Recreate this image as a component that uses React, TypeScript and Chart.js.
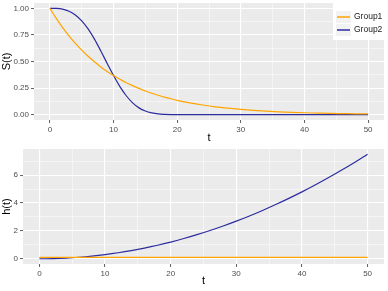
import React, { useEffect, useRef } from "react";
import { Chart, registerables } from "chart.js";

Chart.register(...registerables);

const tValues = [0, 1, 2, 3, 4, 5, 6, 7, 8, 9, 10, 11, 12, 13, 14, 15, 16, 17, 18, 19, 20, 22, 24, 26, 28, 30, 32, 34, 36, 38, 40, 42, 44, 46, 48, 50];
const survGroup1 = [1, 0.905, 0.819, 0.741, 0.670, 0.607, 0.549, 0.497, 0.449, 0.407, 0.368, 0.333, 0.301, 0.273, 0.247, 0.223, 0.202, 0.183, 0.165, 0.150, 0.135, 0.111, 0.091, 0.074, 0.061, 0.050, 0.041, 0.033, 0.027, 0.022, 0.018, 0.015, 0.012, 0.010, 0.008, 0.007];
const survGroup2 = [1, 0.999, 0.992, 0.973, 0.938, 0.882, 0.806, 0.710, 0.599, 0.482, 0.368, 0.264, 0.178, 0.111, 0.064, 0.034, 0.017, 0.007, 0.003, 0.001, 0.0003, 0, 0, 0, 0, 0, 0, 0, 0, 0, 0, 0, 0, 0, 0, 0];
const hazGroup1 = [0.1, 0.1, 0.1, 0.1, 0.1, 0.1, 0.1, 0.1, 0.1, 0.1, 0.1, 0.1, 0.1, 0.1, 0.1, 0.1, 0.1, 0.1, 0.1, 0.1, 0.1, 0.1, 0.1, 0.1, 0.1, 0.1, 0.1, 0.1, 0.1, 0.1, 0.1, 0.1, 0.1, 0.1, 0.1, 0.1];
const hazGroup2 = [0, 0.003, 0.012, 0.027, 0.048, 0.075, 0.108, 0.147, 0.192, 0.243, 0.3, 0.363, 0.432, 0.507, 0.588, 0.675, 0.768, 0.867, 0.972, 1.083, 1.2, 1.452, 1.728, 2.028, 2.352, 2.7, 3.072, 3.468, 3.888, 4.332, 4.8, 5.292, 5.808, 6.348, 6.912, 7.5];

const seriesNames = ["Group1", "Group2"];
const xTicks = [0, 5, 10, 15, 20, 25, 30, 35, 40, 45, 50];
const xMajor = [0, 10, 20, 30, 40, 50];
const survTicks = [0, 0.125, 0.25, 0.375, 0.5, 0.625, 0.75, 0.875, 1];
const survMajor = [0, 0.25, 0.5, 0.75, 1];
const hazTicks = [0, 1, 2, 3, 4, 5, 6, 7];
const hazMajor = [0, 2, 4, 6];

const ORANGE = "#FFA500";
const BLUE = "#2c2c9e";
const FONT = "'Liberation Sans', Arial, sans-serif";

const panelBg = {
  id: "panelBg",
  beforeDraw(chart: any) {
    const { ctx, chartArea } = chart;
    ctx.save();
    ctx.fillStyle = "#EBEBEB";
    ctx.fillRect(chartArea.left, chartArea.top, chartArea.right - chartArea.left, chartArea.bottom - chartArea.top);
    ctx.restore();
  },
};

const legendPlugin = {
  id: "ggLegend",
  afterDraw(chart: any, _args: any, opts: any) {
    if (!opts || !opts.show) return;
    const { ctx } = chart;
    ctx.save();
    ctx.fillStyle = "#FFFFFF";
    ctx.fillRect(333, 3, 51, 37);
    chart.data.datasets.forEach((ds: any, i: number) => {
      const y = 17 + i * 13;
      ctx.fillStyle = "#F2F2F2";
      ctx.fillRect(336, y - 6, 15, 12);
      ctx.strokeStyle = ds.borderColor;
      ctx.lineWidth = 1.5;
      ctx.beginPath();
      ctx.moveTo(337, y);
      ctx.lineTo(350, y);
      ctx.stroke();
      ctx.fillStyle = "#1a1a1a";
      ctx.font = `8.5px ${FONT}`;
      ctx.textBaseline = "middle";
      ctx.textAlign = "left";
      ctx.fillText(ds.label, 354, y);
    });
    ctx.restore();
  },
};

function makeScale(opts: {
  min: number; max: number; ticks: number[]; major: number[]; title: string;
  axis: "x" | "y"; fmt: (v: number) => string; fit: number;
}) {
  const isMajor = (v: number) => opts.major.some((m) => Math.abs(m - v) < 1e-9);
  return {
    type: "linear",
    min: opts.min,
    max: opts.max,
    afterBuildTicks(scale: any) {
      scale.ticks = opts.ticks.map((v) => ({ value: v }));
    },
    afterFit(scale: any) {
      if (opts.axis === "y") {
        scale.width = opts.fit;
        scale.paddingTop = 0;
        scale.paddingBottom = 0;
      } else {
        scale.height = opts.fit;
        scale.paddingLeft = 0;
        scale.paddingRight = 0;
      }
    },
    border: { display: false },
    grid: {
      drawTicks: true,
      tickLength: 3,
      color: "#FFFFFF",
      lineWidth: (c: any) => (c.tick && isMajor(c.tick.value) ? 1.1 : 0.5),
      tickColor: (c: any) => (c.tick && isMajor(c.tick.value) ? "#333333" : "rgba(0,0,0,0)"),
      tickWidth: 0.8,
    },
    ticks: {
      autoSkip: false,
      maxRotation: 0,
      padding: 2,
      color: "#4D4D4D",
      font: { family: FONT, size: 8 },
      callback: (v: any) => (isMajor(Number(v)) ? opts.fmt(Number(v)) : ""),
    },
    title: {
      display: true,
      text: opts.title,
      color: "#000000",
      font: { family: FONT, size: 11 },
      padding: { top: 0, bottom: 0 },
    },
  };
}

function PanelChart(props: {
  s1: number[]; s2: number[]; yMin: number; yMax: number; yTicks: number[]; yMajor: number[];
  yTitle: string; yFmt: (v: number) => string; yWidth: number; xHeight: number; legend: boolean; height: number;
}) {
  const ref = useRef<HTMLCanvasElement | null>(null);
  useEffect(() => {
    if (!ref.current) return;
    const chart = new Chart(ref.current, {
      type: "line",
      data: {
        datasets: [
          {
            label: seriesNames[0],
            data: tValues.map((t, i) => ({ x: t, y: props.s1[i] })),
            borderColor: ORANGE,
            borderWidth: 1.2,
            pointRadius: 0,
            cubicInterpolationMode: "monotone",
          },
          {
            label: seriesNames[1],
            data: tValues.map((t, i) => ({ x: t, y: props.s2[i] })),
            borderColor: BLUE,
            borderWidth: 1.2,
            pointRadius: 0,
            cubicInterpolationMode: "monotone",
          },
        ],
      },
      options: {
        responsive: false,
        animation: false,
        events: [],
        layout: { padding: { top: 3, right: 4, left: 0, bottom: 0 } },
        plugins: {
          legend: { display: false },
          tooltip: { enabled: false },
          ggLegend: { show: props.legend },
        } as any,
        scales: {
          x: makeScale({ min: -2.5, max: 52.5, ticks: xTicks, major: xMajor, title: "t", axis: "x", fmt: (v) => String(v), fit: props.xHeight }) as any,
          y: makeScale({ min: props.yMin, max: props.yMax, ticks: props.yTicks, major: props.yMajor, title: props.yTitle, axis: "y", fmt: props.yFmt, fit: props.yWidth }) as any,
        },
      },
      plugins: [panelBg, legendPlugin],
    });
    return () => chart.destroy();
  }, []);
  return <canvas ref={ref} width={388} height={props.height} style={{ display: "block", width: 388, height: props.height }} />;
}

export default function App() {
  return (
    <div style={{ position: "fixed", left: 0, top: 0, width: 388, height: 291, background: "#FFFFFF" }}>
      <PanelChart
        s1={survGroup1} s2={survGroup2} yMin={-0.05} yMax={1.05}
        yTicks={survTicks} yMajor={survMajor} yTitle="S(t)"
        yFmt={(v) => v.toFixed(2)} yWidth={34} xHeight={25} legend={true} height={145}
      />
      <div style={{ position: "absolute", left: 0, top: 146 }}>
        <PanelChart
          s1={hazGroup1} s2={hazGroup2} yMin={-0.375} yMax={7.875}
          yTicks={hazTicks} yMajor={hazMajor} yTitle="h(t)"
          yFmt={(v) => String(v)} yWidth={23} xHeight={24} legend={false} height={142}
        />
      </div>
    </div>
  );
}
